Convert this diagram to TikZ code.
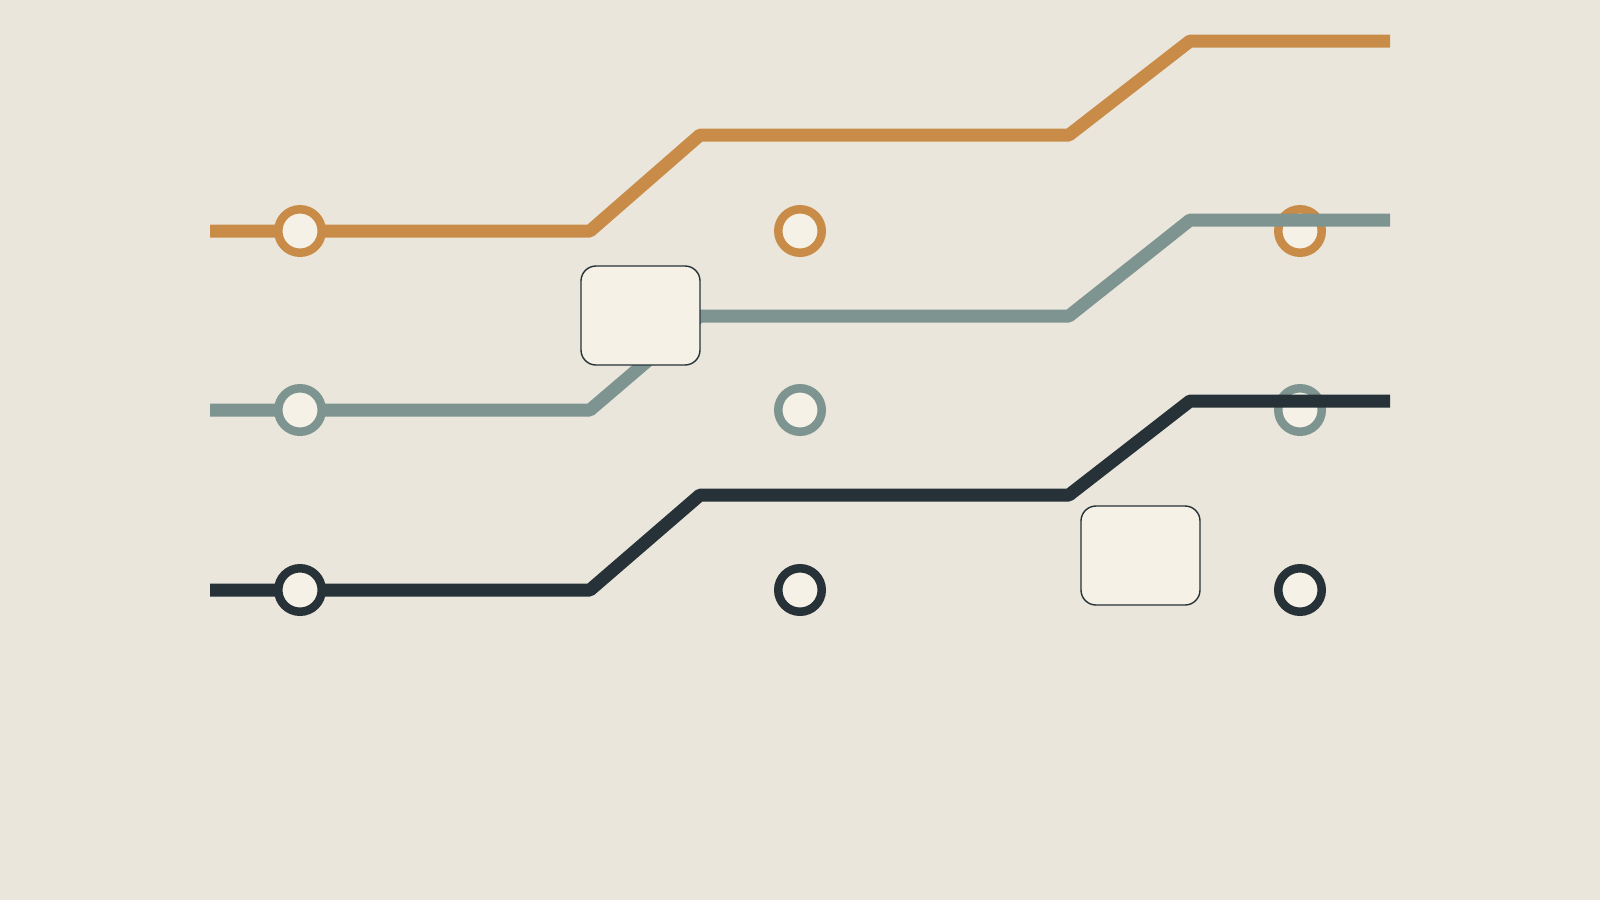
\documentclass[tikz,border=0pt]{standalone}
\usepackage{xcolor}

\definecolor{paper}{HTML}{EAE6DB}
\definecolor{cream}{HTML}{F5F1E6}
\definecolor{ochre}{HTML}{C98C48}
\definecolor{sage}{HTML}{7D9490}
\definecolor{slate}{HTML}{263238}

\begin{document}
\begin{tikzpicture}[x=1pt, y=-1pt,
    every node/.style={
        inner sep=0pt,
        fill=cream
    },
    station/.style={circle, draw, line width=8.5pt, minimum size=43.5pt},
    panel/.style={rectangle, rounded corners=15pt, draw=slate, line width=1.4pt,
        minimum width=119pt, minimum height=99pt},
    track/.style={line width=13pt, line join=round}
]
    \fill[paper] (0, 0) rectangle (1600, 900);
    \useasboundingbox (0, 0) rectangle (1600, 900);



    \coordinate (ochre_start) at (210, 231);
    \coordinate (ochre_low) at (590, 231);
    \coordinate (ochre_mid_left) at (700, 135);
    \coordinate (ochre_mid_right) at (1069, 135);
    \coordinate (ochre_high) at (1190, 41);
    \coordinate (ochre_end) at (1390, 41);

    \draw[track, ochre] (ochre_start) -- (ochre_low) -- (ochre_mid_left)
        -- (ochre_mid_right) -- (ochre_high) -- (ochre_end);

    \node (ochre_stop_a) [station, draw=ochre, shift={(300, 231)}] {};
    \node (ochre_stop_b) [station, draw=ochre, shift={(800, 231)}] {};
    \node (ochre_stop_c) [station, draw=ochre, shift={(1300, 231)}] {};




    \coordinate (sage_start) at (210, 410);
    \coordinate (sage_low) at (590, 410);
    \coordinate (sage_mid_left) at (700, 316);
    \coordinate (sage_mid_right) at (1069, 316);
    \coordinate (sage_high) at (1190, 220);
    \coordinate (sage_end) at (1390, 220);

    \draw[track, sage] (sage_start) -- (sage_low) -- (sage_mid_left)
        -- (sage_mid_right) -- (sage_high) -- (sage_end);

    \node (sage_stop_a) [station, draw=sage, shift={(300, 410)}] {};
    \node (sage_stop_b) [station, draw=sage, shift={(800, 410)}] {};
    \node (sage_stop_c) [station, draw=sage, shift={(1300, 410)}] {};

    \node (panel_upper) [panel, shift={(640.5, 315.5)}] {};




    \coordinate (slate_start) at (210, 590);
    \coordinate (slate_low) at (590, 590);
    \coordinate (slate_mid_left) at (700, 495);
    \coordinate (slate_mid_right) at (1069, 495);
    \coordinate (slate_high) at (1190, 401);
    \coordinate (slate_end) at (1390, 401);

    \draw[track, slate] (slate_start) -- (slate_low) -- (slate_mid_left)
        -- (slate_mid_right) -- (slate_high) -- (slate_end);

    \node (slate_stop_a) [station, draw=slate, shift={(300, 590)}] {};
    \node (slate_stop_b) [station, draw=slate, shift={(800, 590)}] {};
    \node (slate_stop_c) [station, draw=slate, shift={(1300, 590)}] {};

    \node (panel_lower) [panel, shift={(1140.5, 555.5)}] {};


\end{tikzpicture}
\end{document}
